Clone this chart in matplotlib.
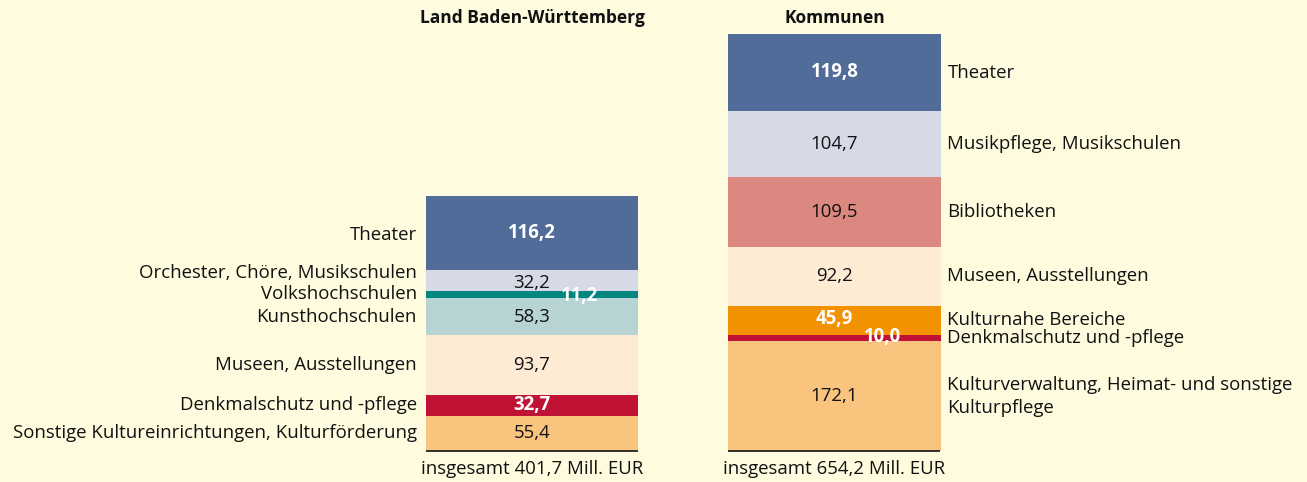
import matplotlib
matplotlib.use("Agg")
import matplotlib.pyplot as plt

plt.rcParams['font.family'] = ['Open Sans', 'DejaVu Sans']

# ---- data ----
titles = ["Land Baden-Württemberg", "Kommunen"]
totals_text = ["insgesamt 401,7 Mill. EUR", "insgesamt 654,2 Mill. EUR"]

land_categories = ["Sonstige Kultureinrichtungen, Kulturförderung", "Denkmalschutz und -pflege",
                   "Museen, Ausstellungen", "Kunsthochschulen", "Volkshochschulen",
                   "Orchester, Chöre, Musikschulen", "Theater"]
land_values = [55.4, 32.7, 93.7, 58.3, 11.2, 32.2, 116.2]
land_value_labels = ["55,4", "32,7", "93,7", "58,3", "11,2", "32,2", "116,2"]

komm_categories = ["Kulturverwaltung, Heimat- und sonstige\nKulturpflege", "Denkmalschutz und -pflege",
                   "Kulturnahe Bereiche", "Museen, Ausstellungen", "Bibliotheken",
                   "Musikpflege, Musikschulen", "Theater"]
komm_values = [172.1, 10.0, 45.9, 92.2, 109.5, 104.7, 119.8]
komm_value_labels = ["172,1", "10,0", "45,9", "92,2", "109,5", "104,7", "119,8"]

# ---- styles ----
BG = "#FFFBDF"
land_colors = ["#F9C57E", "#C01235", "#FDEBD4", "#B7D3D3", "#00857F", "#D8D9E7", "#516C99"]
komm_colors = ["#F9C57E", "#C01235", "#F39200", "#FDEBD4", "#DA8880", "#D8D9E7", "#516C99"]
land_white = [False, True, False, False, True, False, True]
komm_white = [False, True, True, False, False, False, True]
land_label_dy = [0, 0, 0, 0, 0, 12, -2]
land_val_dx = [0, 0, 0, 0, 0.158, 0, 0]
land_val_dy = [0, 0, 0, 0, -3, -3, 0]
komm_label_dy = [0, 0, 0, 0, 0, 0, -1]
komm_val_dx = [0, 0.16, 0, 0, 0, 0, 0]
komm_val_dy = [0, 2, 2, 0, 0, 0, 0]

W, H = 1307, 482
fig = plt.figure(figsize=(W / 100, H / 100), dpi=100, facecolor=BG)
ax = fig.add_axes([0, 0, 1, 1])
ax.set_facecolor(BG)
ax.axis("off")

step = 302.5
ppu = 0.637
ax.set_xlim(-532 / step, (W - 532) / step)
ax.set_ylim(-(H - 451) / ppu, 451 / ppu)
bw = 212 / step

fs = 13.4

def draw(xc, values, colors, whites, cats, vlabels, ldy, vdx, vdy, side):
    bottom = 0.0
    for v, c, wht, cat, vl, dy, dx, vy in zip(values, colors, whites, cats, vlabels, ldy, vdx, vdy):
        ax.bar(xc, v, bottom=bottom, width=bw, color=c, edgecolor="none")
        mid = bottom + v / 2
        ax.text(xc + dx, mid + vy, vl, ha="center", va="center", fontsize=fs,
                color="white" if wht else "#111111", fontweight="bold" if wht else "normal")
        if side == "left":
            ax.text(xc - bw / 2 - 9 / step, mid + dy, cat, ha="right", va="center", fontsize=fs, color="#111111")
        else:
            ax.text(xc + bw / 2 + 7 / step, mid + dy, cat, ha="left", va="center", fontsize=fs,
                    color="#111111", linespacing=1.35)
        bottom += v
    ax.plot([xc - bw / 2, xc + bw / 2], [0, 0], color="#111111", lw=1.2, solid_capstyle="butt")

draw(0, land_values, land_colors, land_white, land_categories, land_value_labels,
     land_label_dy, land_val_dx, land_val_dy, "left")
draw(1, komm_values, komm_colors, komm_white, komm_categories, komm_value_labels,
     komm_label_dy, komm_val_dx, komm_val_dy, "right")

for i, (t, s) in enumerate(zip(titles, totals_text)):
    ax.text(i, (451 - 18) / ppu, t, ha="center", va="center", fontsize=12.5, fontweight="bold", color="#111111")
    ax.text(i, -(469 - 451) / ppu, s, ha="center", va="center", fontsize=fs, color="#111111")

fig.savefig("out.png", dpi=100, facecolor=BG)
